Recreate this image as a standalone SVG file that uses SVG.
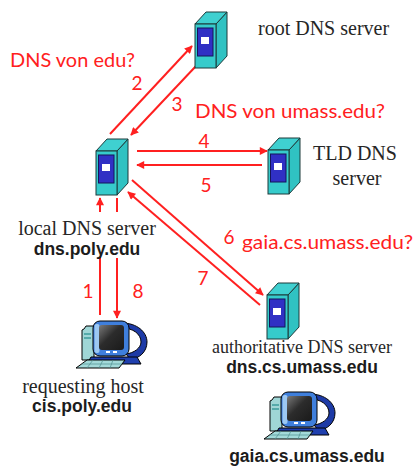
<svg xmlns="http://www.w3.org/2000/svg" width="416" height="467" viewBox="0 0 416 467">
  <style>
    .serif { font-family: "Liberation Serif", "Times New Roman", serif; font-size: 20px; fill: #262626; }
    .host { font-family: "Liberation Sans", Arial, sans-serif; font-size: 17.5px; font-weight: bold; fill: #1c1c1c; }
    .red { font-family: Lato, "Liberation Sans", sans-serif; font-size: 20px; fill: #ff2020; }
    .num { font-family: Lato, "Liberation Sans", sans-serif; font-size: 19px; fill: #ff2020; text-anchor: middle; }
    .link { stroke: #ff2020; stroke-width: 2; fill: none; marker-end: url(#head); }
  </style>
  <defs>
    <marker id="head" viewBox="0 0 10 10" refX="9" refY="5" markerWidth="9" markerHeight="8" markerUnits="userSpaceOnUse" orient="auto">
      <path d="M0,0 L10,5 L0,10 Z" fill="#ff2020"/>
    </marker>
    <linearGradient id="glare" x1="0" y1="0" x2="1" y2="1">
      <stop offset="0" stop-color="#7a7a7a"/>
      <stop offset="0.45" stop-color="#2c2c2c"/>
      <stop offset="1" stop-color="#1a1a1a"/>
    </linearGradient>
    <!-- server tower: origin at the top-left of the front face -->
    <g id="srv">
      <polygon points="21,0 32,-12 32,32 21,44" fill="#30c2c2" stroke="#1d3a3a" stroke-width="1"/>
      <polygon points="0,0 11,-12 32,-12 21,0" fill="#3fd0d0" stroke="#1d3a3a" stroke-width="1"/>
      <rect x="0" y="0" width="21" height="44" fill="#36cbcb" stroke="#1d3a3a" stroke-width="1"/>
      <rect x="2.5" y="4" width="15.5" height="28" fill="#3030c4" stroke="#15155a" stroke-width="1"/>
      <rect x="6" y="13" width="8" height="7" fill="#ffffff"/>
    </g>
    <!-- desktop computer: origin at the top-left of the icon -->
    <g id="pc">
      <path d="M47,3 C62,3 72,12 72,22 C72,32 64,39 55,39 L51,34 C59,33 66,28 66,22 C66,14 58,8 47,8 Z" fill="#1d3aa6" stroke="#000" stroke-width="1"/>
      <path d="M9,9 L11,6 L19,6 L19,40 L7,40 L7,10 Z" fill="#9fd6d6" stroke="#000" stroke-width="1"/>
      <rect x="9" y="13" width="7" height="2" fill="#5aa"/>
      <rect x="9" y="17" width="7" height="2" fill="#5aa"/>
      <path d="M16,37 L62,37 L66,44 L12,44 Z" fill="#1f3fae" stroke="#000" stroke-width="1"/>
      <rect x="18" y="1" width="36" height="35" rx="7" fill="#3f7fdc" stroke="#000" stroke-width="1"/>
      <rect x="19.5" y="4" width="5" height="29" rx="2" fill="#9cc8f2"/>
      <rect x="24" y="5" width="25" height="25" rx="3" fill="url(#glare)"/>
      <rect x="31" y="31" width="4" height="2" fill="#fff"/>
      <rect x="38" y="31" width="4" height="2" fill="#fff"/>
      <path d="M1,48 L12,40 L50,40 L44,48 Z" fill="#a3dada" stroke="#000" stroke-width="1"/>
      <path d="M7,44 L47,44 M18,40 L12,48 M28,40 L24,48 M38,40 L35,48" stroke="#4f8f8f" stroke-width="0.7" fill="none"/>
    </g>
  </defs>

  <rect width="416" height="467" fill="#ffffff"/>

  <!-- connectors -->
  <g id="connectors">
    <path class="link" d="M110,134 L192,46"/>
    <path class="link" d="M196,66 L131,135"/>
    <path class="link" d="M137,151 L267,151"/>
    <path class="link" d="M262,165 L137,165"/>
    <path class="link" d="M132,180 L263,295"/>
    <path class="link" d="M260,305 L128,192"/>
    <path class="link" d="M100,315 V257 M100,212 V198"/>
    <path class="link" d="M117,198 V212 M117,258 V318"/>
    <text class="num" x="137" y="90">2</text>
    <text class="num" x="177" y="111">3</text>
    <text class="num" x="204" y="148">4</text>
    <text class="num" x="206" y="192">5</text>
    <text class="num" x="229" y="244">6</text>
    <text class="num" x="203" y="285">7</text>
    <text class="num" x="88" y="298">1</text>
    <text class="num" x="138" y="298">8</text>
    <text class="red" x="10" y="67" textLength="125" lengthAdjust="spacingAndGlyphs">DNS von edu?</text>
    <text class="red" x="195" y="118" textLength="190" lengthAdjust="spacingAndGlyphs">DNS von umass.edu?</text>
    <text class="red" x="242" y="249" textLength="171" lengthAdjust="spacingAndGlyphs">gaia.cs.umass.edu?</text>
  </g>

  <g id="root-dns">
    <use href="#srv" x="195" y="24"/>
    <text class="serif" x="258" y="35">root DNS server</text>
  </g>

  <g id="local-dns">
    <use href="#srv" x="96" y="151"/>
    <text class="serif" x="87" y="235" text-anchor="middle">local DNS server</text>
    <text class="host" x="87" y="255" text-anchor="middle">dns.poly.edu</text>
  </g>

  <g id="tld-dns">
    <use href="#srv" x="268" y="150"/>
    <text class="serif" x="313" y="160">TLD DNS</text>
    <text class="serif" x="357" y="185" text-anchor="middle">server</text>
  </g>

  <g id="auth-dns">
    <use href="#srv" x="267" y="295"/>
    <text class="serif" x="302" y="353" text-anchor="middle" style="font-size:18px">authoritative DNS server</text>
    <text class="host" x="302" y="373" text-anchor="middle">dns.cs.umass.edu</text>
  </g>

  <g id="requesting-host">
    <use href="#pc" x="75" y="320"/>
    <text class="serif" x="83" y="393" text-anchor="middle">requesting host</text>
    <text class="host" x="82" y="412" text-anchor="middle">cis.poly.edu</text>
  </g>

  <g id="gaia-host">
    <use href="#pc" x="263" y="391"/>
    <text class="host" x="307" y="462" text-anchor="middle">gaia.cs.umass.edu</text>
  </g>
</svg>
